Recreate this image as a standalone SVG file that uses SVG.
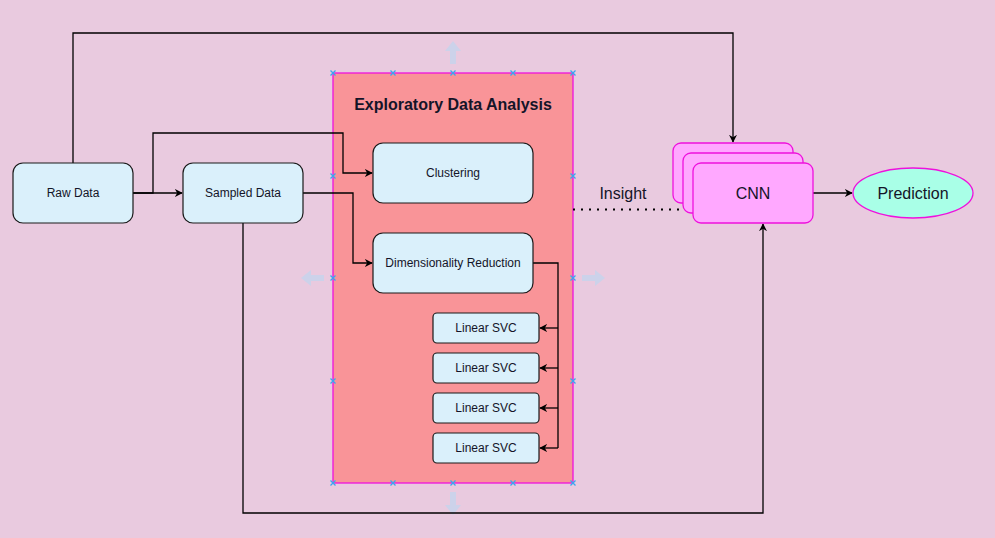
<svg xmlns="http://www.w3.org/2000/svg" width="995" height="538" viewBox="0 0 995 538">
<defs>
<style>
text{font-family:"Liberation Sans",Arial,sans-serif;fill:#141428;text-anchor:middle;dominant-baseline:central}
.box{fill:#DAF0FB;stroke:#1a1a1a;stroke-width:1.2}
.cnn{fill:#FFA8FF;stroke:#EE11DD;stroke-width:1.3}
.edge{fill:none;stroke:#000;stroke-width:1.3}
.mk{stroke:#3AA6F0;stroke-width:1.3}
.ghost{fill:#CCD2EA}
.s12{font-size:12px}
.s16{font-size:16px}
</style>
<marker id="arr" viewBox="0 0 10 10" refX="9" refY="5" markerWidth="8" markerHeight="8" markerUnits="userSpaceOnUse" orient="auto">
<path d="M0,0 L10,5 L0,10 L3,5 Z" fill="#000"/>
</marker>
<path id="x" d="M-2.5,-2.5 L2.5,2.5 M-2.5,2.5 L2.5,-2.5"/>
</defs>
<rect width="995" height="538" fill="#E9CADF"/>

<g id="eda">
<rect x="333" y="73" width="240" height="410" fill="#F99498" stroke="#EE11DD" stroke-width="1.3"/>
<text x="453" y="104" style="font-size:16px;font-weight:bold">Exploratory Data Analysis</text>
<g class="mk">
<use href="#x" x="333" y="73"/><use href="#x" x="393" y="73"/><use href="#x" x="453" y="73"/><use href="#x" x="513" y="73"/><use href="#x" x="573" y="73"/>
<use href="#x" x="333" y="483"/><use href="#x" x="393" y="483"/><use href="#x" x="453" y="483"/><use href="#x" x="513" y="483"/><use href="#x" x="573" y="483"/>
<use href="#x" x="333" y="176"/><use href="#x" x="333" y="278"/><use href="#x" x="333" y="381"/>
<use href="#x" x="573" y="176"/><use href="#x" x="573" y="278"/><use href="#x" x="573" y="381"/>
</g>
<g class="ghost">
<path d="M453,41 L461,51 L456,51 L456,64 L450,64 L450,51 L445,51 Z"/>
<path d="M453,515 L461,505 L456,505 L456,492 L450,492 L450,505 L445,505 Z"/>
<path d="M301,278 L311,270 L311,275 L324,275 L324,281 L311,281 L311,286 Z"/>
<path d="M605,278 L595,270 L595,275 L582,275 L582,281 L595,281 L595,286 Z"/>
</g>
</g>

<g id="connectors">
<path class="edge" d="M133,193 L182,193" marker-end="url(#arr)"/>
<path class="edge" d="M133,193 L153,193 L153,133 L343,133 L343,173 L372,173" marker-end="url(#arr)"/>
<path class="edge" d="M303,193 L353,193 L353,263 L372,263" marker-end="url(#arr)"/>
<path class="edge" d="M533,263 L558,263 L558,448"/>
<path class="edge" d="M558,328 L540,328" marker-end="url(#arr)"/>
<path class="edge" d="M558,368 L540,368" marker-end="url(#arr)"/>
<path class="edge" d="M558,408 L540,408" marker-end="url(#arr)"/>
<path class="edge" d="M558,448 L540,448" marker-end="url(#arr)"/>
<path class="edge" d="M73,163 L73,33 L733,33 L733,142" marker-end="url(#arr)"/>
<path class="edge" d="M243,223 L243,513 L763,513 L763,224" marker-end="url(#arr)"/>
<path d="M573,209.5 L690,209.5" fill="none" stroke="#000" stroke-width="2" stroke-dasharray="2,6"/>
<path class="edge" d="M813,193 L852,193" marker-end="url(#arr)"/>
<text x="623" y="193" class="s16">Insight</text>
</g>

<g id="raw-data">
<rect class="box" x="13" y="163" width="120" height="60" rx="10"/>
<text x="73" y="193" class="s12">Raw Data</text>
</g>
<g id="sampled-data">
<rect class="box" x="183" y="163" width="120" height="60" rx="10"/>
<text x="243" y="193" class="s12">Sampled Data</text>
</g>
<g id="clustering">
<rect class="box" x="373" y="143" width="160" height="60" rx="10"/>
<text x="453" y="173" class="s12">Clustering</text>
</g>
<g id="dim-reduction">
<rect class="box" x="373" y="233" width="160" height="60" rx="10"/>
<text x="453" y="263" class="s12">Dimensionality Reduction</text>
</g>
<g id="svc1">
<rect class="box" x="433" y="313" width="106" height="30" rx="4"/>
<text x="486" y="328" class="s12">Linear SVC</text>
</g>
<g id="svc2">
<rect class="box" x="433" y="353" width="106" height="30" rx="4"/>
<text x="486" y="368" class="s12">Linear SVC</text>
</g>
<g id="svc3">
<rect class="box" x="433" y="393" width="106" height="30" rx="4"/>
<text x="486" y="408" class="s12">Linear SVC</text>
</g>
<g id="svc4">
<rect class="box" x="433" y="433" width="106" height="30" rx="4"/>
<text x="486" y="448" class="s12">Linear SVC</text>
</g>
<g id="cnn">
<rect class="cnn" x="673" y="143" width="120" height="60" rx="8"/>
<rect class="cnn" x="683" y="153" width="120" height="60" rx="8"/>
<rect class="cnn" x="693" y="163" width="120" height="60" rx="8"/>
<text x="753" y="193" class="s16">CNN</text>
</g>
<g id="prediction">
<ellipse cx="913" cy="193" rx="60" ry="25" fill="#A9FFE7" stroke="#EE11DD" stroke-width="1.3"/>
<text x="913" y="193" class="s16">Prediction</text>
</g>
</svg>
